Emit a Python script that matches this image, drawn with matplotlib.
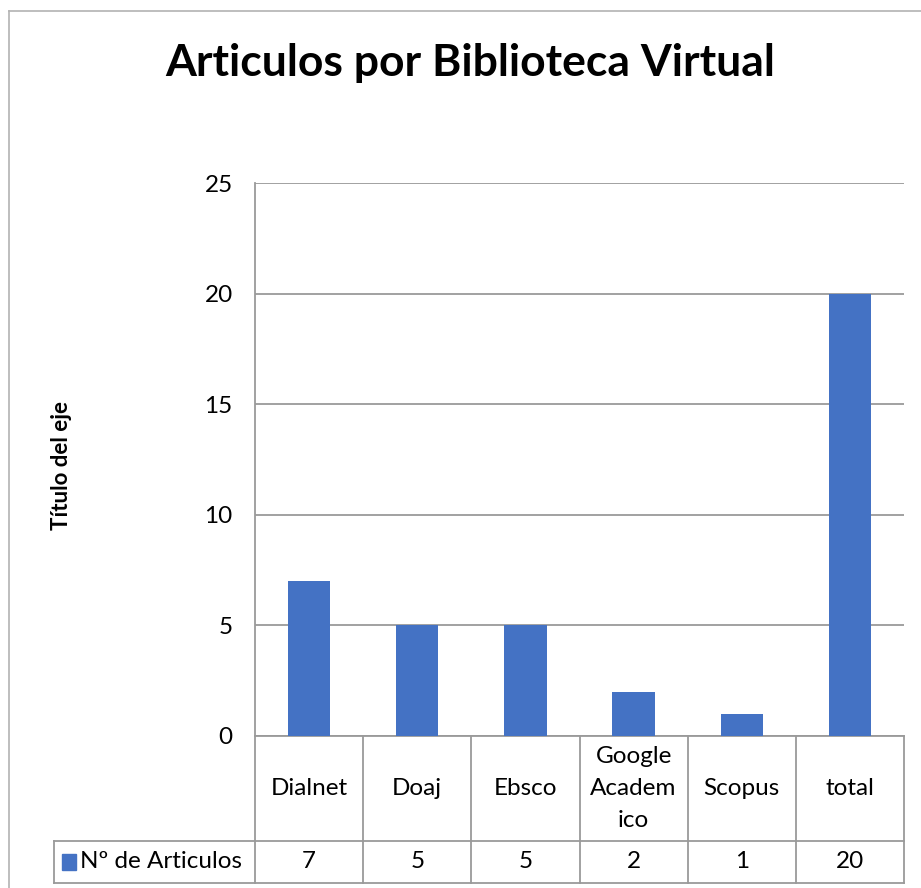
import matplotlib.pyplot as plt
from matplotlib.patches import Rectangle

categories = ["Dialnet", "Doaj", "Ebsco", "Google\nAcadem\nico", "Scopus", "total"]
valores = [7, 5, 5, 2, 1, 20]
serie = "Nº de Articulos"
yticks = [0, 5, 10, 15, 20, 25]

azul = "#4472C4"
gris = "#9A9A9A"
plt.rcParams['font.family'] = ['Lato', 'DejaVu Sans']

W, H = 921, 888
fig = plt.figure(figsize=(W / 100, H / 100), dpi=100)

# chart border (only left/top visible in the crop)
fig.add_artist(plt.Line2D([9 / W, 9 / W], [0, 1 - 11 / H], color="#B3B3B3", lw=1.2))
fig.add_artist(plt.Line2D([9 / W, 1], [1 - 11 / H, 1 - 11 / H], color="#B3B3B3", lw=1.2))

ax = fig.add_axes([255 / W, 1 - 736 / H, (904 - 255) / W, (736 - 183) / H])
x = list(range(len(categories)))
ax.bar(x, valores, width=0.39, color=azul, zorder=3)
ax.set_xlim(-0.5, len(categories) - 0.5)
ax.set_ylim(0, 25)
ax.set_yticks(yticks)
ax.set_yticklabels([str(t) for t in yticks], fontsize=17.5)
ax.tick_params(axis='y', length=0, pad=16)
ax.set_xticks([])
ax.grid(axis='y', color=gris, lw=1.3, zorder=0)
for s in ["top", "right", "bottom"]:
    ax.spines[s].set_visible(False)
ax.spines["left"].set_color(gris)
ax.spines["left"].set_linewidth(1.3)

fig.text(470 / W, 1 - 63 / H, "Articulos por Biblioteca Virtual", fontsize=32,
         fontweight="bold", ha="center", va="center")
fig.text(62 / W, 1 - 465 / H, "Título del eje", fontsize=16, fontweight="bold",
         rotation=90, ha="center", va="center")

# data table under the plot
tr = ax.get_xaxis_transform()
h = 736 - 183
y1 = -(841 - 736) / h
y2 = -(883 - 736) / h
xl = -0.5 - (255 - 54) / ((904 - 255) / len(categories))
xr = len(categories) - 0.5
kw = dict(color=gris, lw=1.3, transform=tr, clip_on=False)
ax.plot([-0.5, xr], [0, 0], **kw)
ax.plot([xl, xr], [y1, y1], **kw)
ax.plot([xl, xr], [y2, y2], **kw)
ax.plot([xl, xl], [y1, y2], **kw)
for i in range(len(categories) + 1):
    ax.plot([i - 0.5, i - 0.5], [0, y2], **kw)
for i, (c, v) in enumerate(zip(categories, valores)):
    ax.text(i, y1 / 2, c, transform=tr, ha="center", va="center", fontsize=17.5,
            linespacing=1.65)
    ax.text(i, (y1 + y2) / 2, str(v), transform=tr, ha="center", va="center", fontsize=17.5)
ax.add_patch(Rectangle((xl + 0.07, (y1 + y2) / 2 - 0.014), 0.13, 0.028, color=azul,
                       transform=tr, clip_on=False))
ax.text(xl + 0.24, (y1 + y2) / 2, serie, transform=tr, ha="left", va="center", fontsize=17.5)

fig.savefig("out.png", dpi=100)
